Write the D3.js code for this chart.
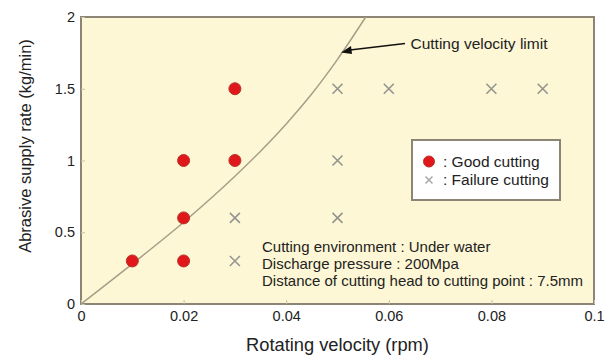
<!DOCTYPE html>
<html><head><meta charset="utf-8">
<script src="https://cdn.jsdelivr.net/npm/d3@7"></script>
<style>body{margin:0;background:#fff}svg{display:block;font-family:"Liberation Sans",Arial,sans-serif}</style>
</head><body><svg id="c" width="614" height="356"></svg>
<script>
const xTicks = [0, 0.02, 0.04, 0.06, 0.08, 0.1];
const yTicks = [0, 0.5, 1, 1.5, 2];
const goodX = [0.01, 0.02, 0.02, 0.02, 0.03, 0.03];
const goodY = [0.3, 0.3, 0.6, 1.0, 1.0, 1.5];
const failX = [0.03, 0.03, 0.05, 0.05, 0.05, 0.06, 0.08, 0.09];
const failY = [0.3, 0.6, 0.6, 1.0, 1.5, 1.5, 1.5, 1.5];
const limitX = [0, 0.01, 0.02, 0.03, 0.035, 0.04, 0.045, 0.05, 0.0555];
const limitY = [0, 0.28, 0.57, 0.89, 1.065, 1.255, 1.465, 1.705, 2.0];
const notes = ["Cutting environment : Under water", "Discharge pressure : 200Mpa", "Distance of cutting head to cutting point : 7.5mm"];

const svg = d3.select("#c");
const L = 81, R = 594, T = 17, B = 304;
const x = d3.scaleLinear().domain([0, 0.1]).range([L, R]);
const y = d3.scaleLinear().domain([0, 2]).range([B, T]);
const TXT = "#222";

svg.append("rect").attr("x", L).attr("y", T).attr("width", R - L).attr("height", B - T)
  .attr("fill", "#fdf7d5").attr("stroke", "#8c8474").attr("stroke-width", 2);

// axes
const xa = svg.append("g").attr("transform", `translate(0,${B})`)
  .call(d3.axisBottom(x).tickValues(xTicks).tickSize(-4).tickPadding(7).tickFormat(d => String(d)));
xa.select(".domain").remove();
xa.selectAll("line").attr("stroke", "#c8c0a8");
xa.selectAll("text").attr("font-size", 14.5).attr("fill", TXT).attr("font-family", "Liberation Sans, Arial, sans-serif");
const ya = svg.append("g").attr("transform", `translate(${L},0)`)
  .call(d3.axisLeft(y).tickValues(yTicks).tickSize(-4).tickPadding(6).tickFormat(d => String(d)));
ya.select(".domain").remove();
ya.selectAll("line").attr("stroke", "#c8c0a8");
ya.selectAll("text").attr("font-size", 14.5).attr("fill", TXT).attr("font-family", "Liberation Sans, Arial, sans-serif");

svg.append("text").attr("x", 337.5).attr("y", 351).attr("text-anchor", "middle")
  .attr("font-size", 18.3).attr("fill", TXT).text("Rotating velocity (rpm)");
svg.append("text").attr("transform", "translate(31,146) rotate(-90)").attr("text-anchor", "middle")
  .attr("font-size", 16.5).attr("fill", TXT).text("Abrasive supply rate (kg/min)");

// limit curve
const pts = limitX.map((v, i) => [v, limitY[i]]);
svg.append("path").attr("d", d3.line().x(d => x(d[0])).y(d => y(d[1])).curve(d3.curveMonotoneX)(pts))
  .attr("fill", "none").attr("stroke", "#a89e88").attr("stroke-width", 1.5);

// arrow
svg.append("path").attr("d", "M405,43.5 L350,50").attr("stroke", "#111").attr("stroke-width", 1.6).attr("fill", "none");
svg.append("path").attr("d", "M341,52.5 L351,46 L352,54 Z").attr("fill", "#111");
svg.append("text").attr("x", 410.5).attr("y", 49).attr("font-size", 15.5).attr("fill", TXT).text("Cutting velocity limit");

// markers
function cross(g, cx, cy, s, sw, col) {
  g.append("path").attr("d", `M${cx - s},${cy - s}L${cx + s},${cy + s}M${cx - s},${cy + s}L${cx + s},${cy - s}`)
    .attr("stroke", col).attr("stroke-width", sw);
}
const mg = svg.append("g");
failX.forEach((v, i) => cross(mg, x(v), y(failY[i]), 5, 1.6, "#949490"));
goodX.forEach((v, i) => mg.append("circle").attr("cx", x(v)).attr("cy", y(goodY[i])).attr("r", 6)
  .attr("fill", "#e0181c").attr("stroke", "#b8342a").attr("stroke-width", 1));

// legend
svg.append("rect").attr("x", 412).attr("y", 140).attr("width", 148).attr("height", 60)
  .attr("fill", "#fff").attr("stroke", "#8c8474").attr("stroke-width", 2);
svg.append("circle").attr("cx", 429).attr("cy", 161.5).attr("r", 5.5).attr("fill", "#e0181c").attr("stroke", "#b8342a");
svg.append("text").attr("x", 443).attr("y", 167).attr("font-size", 15.5).attr("fill", TXT).text(": Good cutting");
cross(svg, 429, 180, 3.5, 1.5, "#a8a8a4");
svg.append("text").attr("x", 443).attr("y", 185).attr("font-size", 15.5).attr("fill", TXT).text(": Failure cutting");

// notes
notes.forEach((t, i) => svg.append("text").attr("x", 262).attr("y", 251.7 + i * 17)
  .attr("font-size", 15).attr("fill", TXT).text(t));
</script></body></html>
